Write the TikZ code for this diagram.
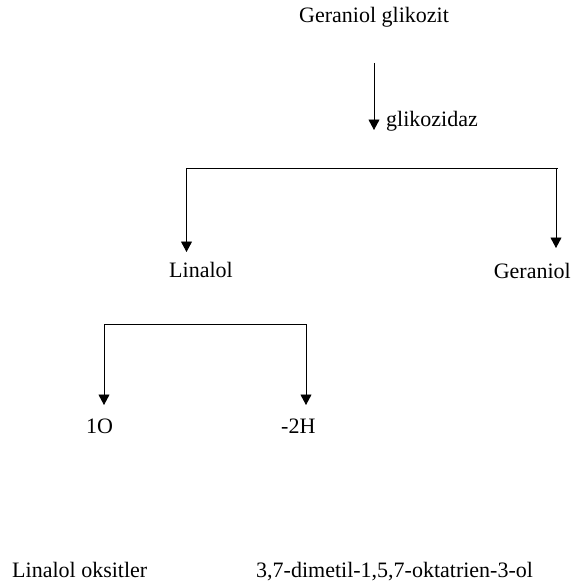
\documentclass[tikz,border=0pt]{standalone}
\usepackage{fontspec}
\setmainfont{Liberation Serif}
\usetikzlibrary{arrows.meta}
\begin{document}
\begin{tikzpicture}[x=1pt,y=-1pt,
  lbl/.style={inner sep=0pt,font=\fontsize{22}{26}\selectfont},
  arr/.style={line width=0.9pt,-{Triangle[width=11pt,length=10.5pt]}},
  ln/.style={line width=0.9pt}]
\useasboundingbox (0,0) rectangle (574,586);
% texts
\node[lbl,anchor=base] (gg) at (374,23) {Geraniol glikozit};
\node[lbl,anchor=base west] (gz) at (386,126) {glikozidaz};
\node[lbl,anchor=base west] (lin) at (169,277) {Linalol};
\node[lbl,anchor=base east] (ger) at (571,278) {Geraniol};
\node[lbl,anchor=base west] (o1) at (86,433) {1O};
\node[lbl,anchor=base west] (h2) at (281,433) {-2H};
\node[lbl,anchor=base west] (lo) at (12,577) {Linalol oksitler};
\node[lbl,anchor=base west] (dm) at (256,577) {3,7-dimetil-1,5,7-oktatrien-3-ol};
% coordinates
\coordinate (a1) at (374,63);
\coordinate (a2) at (374,130);
\coordinate (bl) at (186.5,168);
\coordinate (br) at (558,168);
\coordinate (bm) at (556,168);
\coordinate (tl) at (186.5,252);
\coordinate (tr) at (556,248);
\coordinate (cl) at (104,324);
\coordinate (cr) at (306,324);
\coordinate (dl) at (104,405);
\coordinate (dr) at (306,405);
% connectors
\draw[arr] (a1) -- (a2);
\draw[ln] (bl) -- (br);
\draw[arr] (bl) -- (tl);
\draw[arr] (bm) -- (tr);
\draw[ln] (cl) -- (cr);
\draw[arr] (cl) -- (dl);
\draw[arr] (cr) -- (dr);
\end{tikzpicture}
\end{document}
